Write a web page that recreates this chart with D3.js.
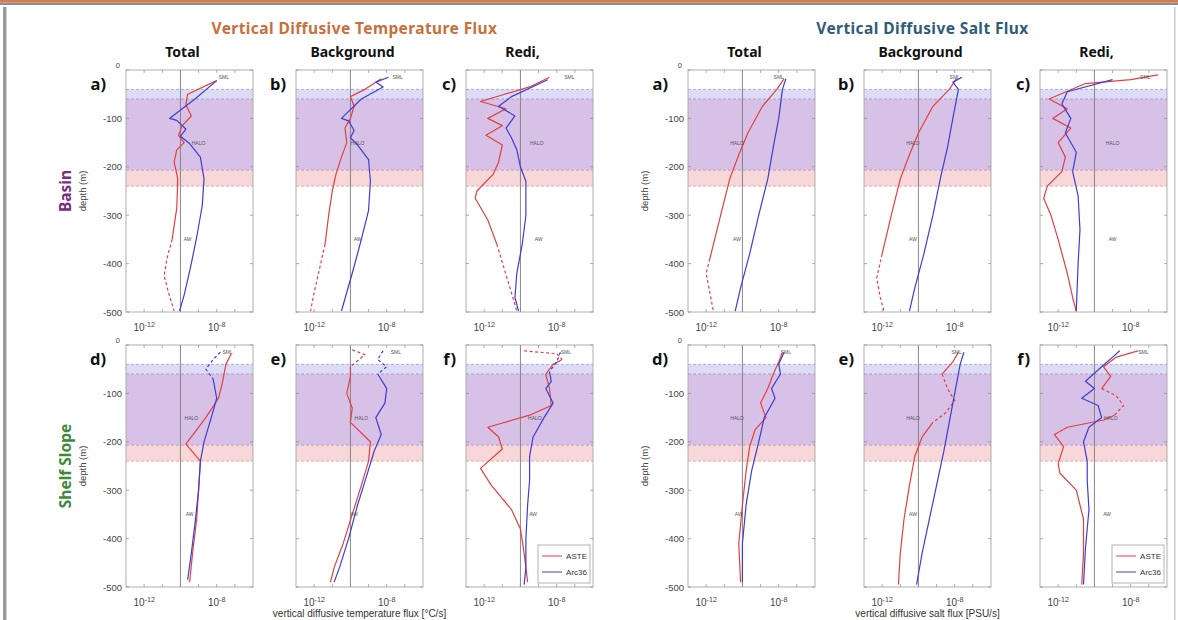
<!DOCTYPE html>
<html><head><meta charset="utf-8">
<script src="https://cdn.jsdelivr.net/npm/d3@7"></script>
<style>body{margin:0;background:#fff}svg{display:block}</style>
</head><body>
<svg id="chart" width="1178" height="620"></svg>
<script>
// ---------------- DATA ----------------
const groupTitles = ["Vertical Diffusive Temperature Flux", "Vertical Diffusive Salt Flux"];
const xLabels = ["vertical diffusive temperature flux [\u00B0C/s]", "vertical diffusive salt flux [PSU/s]"];
const columnHeaders = ["Total", "Background", "Redi,"];
const rowNames = ["Basin", "Shelf Slope"];
const panelLetters = [["a)", "b)", "c)"], ["d)", "e)", "f)"]];
const seriesNames = ["ASTE", "Arc36"];
const depthTicks = [0, -100, -200, -300, -400, -500];
const fluxTicks = [1e-12, 1e-8];
const fluxTickLabels = ["-12", "-8"];
const fluxDecades = [1e-12, 1e-11, 1e-10, 1e-9, 1e-8, 1e-7];
const fluxRefLine = 1e-10;
// layer bands [top, bottom] depth
const bandSML = [-40, -60];
const bandHALO = [-60, -207];
const bandAW = [-207, -240];
const layerLabels = ["SML", "HALO", "AW"];

// each series: [depth (m), flux]; negative flux = plotted as |flux| with dashed line
// Temperature, Basin
const tBasinTotalASTE = [[-22,1.0e-8],[-50,2.5e-10],[-72,2.0e-10],[-95,4.0e-10],[-115,1.26e-10],[-135,7.9e-11],[-150,1.6e-10],[-165,6.3e-11],[-190,4.5e-11],[-225,7.1e-11],[-285,6.3e-11],[-350,3.5e-11],[-390,-1.8e-11],[-425,-1.26e-11],[-460,-2.2e-11],[-498,-4.5e-11]];
const tBasinTotalArc = [[-22,1.0e-8],[-60,6.3e-10],[-100,2.5e-11],[-104,6.3e-11],[-122,2.0e-10],[-137,1.0e-10],[-152,3.2e-10],[-180,1.26e-9],[-225,2.0e-9],[-280,1.6e-9],[-345,7.9e-10],[-410,3.5e-10],[-465,1.6e-10],[-498,8.9e-11]];
const tBasinBackASTE = [[-18,5.0e-9],[-40,6.3e-10],[-55,1.0e-10],[-75,1.6e-10],[-100,1.0e-10],[-120,5.0e-11],[-150,6.3e-11],[-180,3.2e-11],[-215,1.6e-11],[-250,1.0e-11],[-300,6.3e-12],[-360,4.0e-12],[-410,-2.0e-12],[-460,-1.0e-12],[-498,-6.3e-13]];
const tBasinBackArc = [[-15,1.26e-8],[-25,2.5e-9],[-35,6.3e-9],[-60,4.0e-10],[-100,3.2e-11],[-105,7.9e-11],[-125,1.6e-10],[-140,1.0e-10],[-155,2.5e-10],[-185,1.0e-9],[-230,1.26e-9],[-290,1.0e-9],[-350,4.0e-10],[-420,1.26e-10],[-498,3.2e-11]];
const tBasinRediASTE = [[-15,4.0e-9],[-35,3.2e-10],[-65,6.3e-13],[-80,1.6e-11],[-100,1.6e-12],[-115,1.0e-11],[-135,1.26e-12],[-155,1.0e-11],[-190,6.3e-12],[-215,3.2e-12],[-250,4.0e-13],[-265,3.2e-13],[-310,1.6e-12],[-360,5.0e-12],[-410,-1.26e-11],[-460,-3.2e-11],[-498,-6.3e-11]];
const tBasinRediArc = [[-20,3.2e-9],[-55,3.2e-11],[-75,6.3e-12],[-95,5.0e-11],[-120,1.6e-11],[-140,3.2e-11],[-165,6.3e-11],[-200,1.0e-10],[-230,2.0e-10],[-300,2.0e-10],[-360,1.26e-10],[-420,6.3e-11],[-470,5.0e-11],[-498,7.9e-11]];
// Temperature, Shelf slope
const tShelfTotalASTE = [[-18,6.3e-8],[-40,3.2e-8],[-80,2.0e-8],[-110,1.26e-8],[-150,2.5e-9],[-205,2.0e-10],[-240,1.26e-9],[-300,1.0e-9],[-360,7.9e-10],[-420,5.0e-10],[-490,3.2e-10]];
const tShelfTotalArc = [[-15,-1.6e-8],[-30,-6.3e-9],[-50,-2.5e-9],[-70,-6.3e-9],[-110,1.0e-8],[-150,5.0e-9],[-200,2.0e-9],[-240,1.26e-9],[-300,1.0e-9],[-370,6.3e-10],[-430,4.0e-10],[-485,2.5e-10]];
const tShelfBackASTE = [[-10,-1.26e-10],[-20,-6.3e-10],[-45,-1.0e-10],[-65,1.0e-10],[-100,6.3e-11],[-130,1.26e-10],[-160,1.0e-10],[-200,1.26e-9],[-240,1.0e-9],[-290,4.0e-10],[-350,1.26e-10],[-410,4.0e-11],[-460,1.26e-11],[-490,7.9e-12]];
const tShelfBackArc = [[-12,-6.3e-9],[-30,-3.2e-9],[-45,-1.0e-8],[-60,-3.2e-9],[-90,1.0e-8],[-120,7.9e-9],[-150,2.5e-9],[-185,5.0e-9],[-220,2.0e-9],[-270,7.9e-10],[-330,2.5e-10],[-400,7.9e-11],[-460,2.5e-11],[-490,1.26e-11]];
const tShelfRediASTE = [[-12,-1.6e-10],[-18,-1.0e-8],[-30,-2.0e-8],[-40,6.3e-9],[-60,2.5e-9],[-90,4.0e-9],[-125,5.0e-9],[-145,3.2e-10],[-170,1.6e-12],[-190,6.3e-12],[-215,1.0e-11],[-255,6.3e-13],[-290,2.5e-12],[-340,3.2e-11],[-380,1.0e-10],[-430,1.6e-10],[-490,2.5e-10]];
const tShelfRediArc = [[-15,-1.6e-8],[-35,-1.0e-8],[-55,-4.0e-9],[-75,5.0e-9],[-90,2.5e-9],[-120,6.3e-9],[-150,2.0e-9],[-190,5.0e-10],[-230,3.2e-10],[-280,3.2e-10],[-330,2.5e-10],[-400,2.0e-10],[-460,2.0e-10],[-495,1.6e-10]];
// Salt, Basin
const sBasinTotalASTE = [[-18,2.0e-8],[-40,7.9e-9],[-75,1.26e-9],[-130,2.0e-10],[-175,6.3e-11],[-225,2.0e-11],[-300,6.3e-12],[-390,1.6e-12],[-420,-1.0e-12],[-460,-1.6e-12],[-498,-2.5e-12]];
const sBasinTotalArc = [[-18,2.5e-8],[-40,1.6e-8],[-100,1.0e-8],[-160,5.0e-9],[-225,2.5e-9],[-300,7.9e-10],[-380,2.5e-10],[-450,7.9e-11],[-498,4.0e-11]];
const sBasinBackASTE = [[-18,1.26e-8],[-40,5.0e-9],[-75,6.3e-10],[-130,1.0e-10],[-175,3.2e-11],[-225,1.0e-11],[-300,3.2e-12],[-380,1.0e-12],[-430,-5.0e-13],[-470,-7.9e-13],[-498,-1.26e-12]];
const sBasinBackArc = [[-15,2.5e-8],[-25,7.9e-9],[-40,1.6e-8],[-100,7.9e-9],[-160,4.0e-9],[-225,1.6e-9],[-300,6.3e-10],[-380,2.0e-10],[-450,6.3e-11],[-498,3.2e-11]];
const sBasinRediASTE = [[-10,3.2e-7],[-20,1.0e-8],[-28,3.2e-11],[-60,3.2e-13],[-80,3.2e-12],[-100,5.0e-13],[-120,5.0e-12],[-150,1.0e-12],[-180,2.5e-12],[-210,1.6e-12],[-240,2.5e-13],[-265,1.6e-13],[-300,4.0e-13],[-350,1.0e-12],[-420,3.2e-12],[-470,6.3e-12],[-498,1.0e-11]];
const sBasinRediArc = [[-20,1.0e-9],[-45,3.2e-12],[-70,1.6e-12],[-100,5.0e-12],[-130,2.5e-12],[-170,1.0e-11],[-210,6.3e-12],[-260,1.26e-11],[-330,1.6e-11],[-400,1.26e-11],[-498,1.0e-11]];
// Salt, Shelf slope
const sShelfTotalASTE = [[-15,1.6e-8],[-35,1.0e-8],[-60,5.0e-9],[-90,2.5e-9],[-120,1.0e-9],[-150,2.0e-9],[-175,5.0e-10],[-210,2.5e-10],[-260,1.6e-10],[-330,1.0e-10],[-410,6.3e-11],[-490,7.9e-11]];
const sShelfTotalArc = [[-15,2.0e-8],[-40,1.0e-8],[-60,1.26e-8],[-90,4.0e-9],[-110,6.3e-9],[-150,1.6e-9],[-200,7.9e-10],[-260,3.2e-10],[-330,1.6e-10],[-410,1.0e-10],[-490,1.0e-10]];
const sShelfBackASTE = [[-15,1.6e-8],[-35,7.9e-9],[-60,2.0e-9],[-90,-4.0e-9],[-115,-1.0e-8],[-140,-3.2e-9],[-160,-6.3e-10],[-190,1.6e-10],[-230,6.3e-11],[-290,3.2e-11],[-360,1.6e-11],[-430,1.0e-11],[-495,7.9e-12]];
const sShelfBackArc = [[-15,3.2e-8],[-40,2.0e-8],[-80,1.26e-8],[-120,7.9e-9],[-160,5.0e-9],[-220,2.5e-9],[-290,1.0e-9],[-360,4.0e-10],[-430,1.6e-10],[-495,7.9e-11]];
const sShelfRediASTE = [[-12,2.5e-8],[-25,1.6e-9],[-45,3.2e-10],[-65,7.9e-10],[-90,2.5e-10],[-105,-1.6e-9],[-125,-4.0e-9],[-145,-1.26e-9],[-155,3.2e-10],[-170,3.2e-12],[-185,6.3e-13],[-210,2.0e-12],[-245,1.0e-12],[-265,1.26e-12],[-300,1.0e-11],[-360,2.5e-11],[-430,2.5e-11],[-495,2.0e-11]];
const sShelfRediArc = [[-12,2.5e-9],[-25,1.0e-9],[-45,2.5e-10],[-75,3.2e-11],[-90,1.0e-10],[-110,2.0e-11],[-125,1.6e-10],[-150,2.5e-10],[-170,5.0e-11],[-200,2.5e-11],[-240,4.0e-11],[-280,4.0e-11],[-340,5.0e-11],[-420,3.2e-11],[-495,2.5e-11]];

// layer-label positions [flux, depth] for SML, HALO, AW per panel
const tLabelPos = [
  [[[2.5e-8,-15],[1.0e-9,-150],[2.5e-10,-350]], [[4.0e-8,-15],[2.5e-10,-150],[2.5e-10,-350]], [[5.0e-8,-15],[8.0e-10,-150],[1.0e-9,-350]]],
  [[[4.0e-8,-15],[4.0e-10,-150],[3.2e-10,-350]], [[3.2e-8,-15],[4.0e-10,-150],[1.6e-10,-350]], [[3.2e-8,-15],[6.3e-10,-150],[5.0e-10,-350]]]
];
const sLabelPos = [
  [[[1.0e-8,-15],[5.0e-11,-150],[5.0e-11,-350]], [[1.0e-8,-15],[5.0e-11,-150],[5.0e-11,-350]], [[6.3e-8,-15],[1.0e-9,-150],[1.0e-9,-350]]],
  [[[2.5e-8,-15],[5.0e-11,-150],[6.3e-11,-350]], [[1.26e-8,-15],[5.0e-11,-150],[5.0e-11,-350]], [[5.0e-8,-15],[8.0e-10,-150],[5.0e-10,-350]]]
];

const tSeries = [
  [[tBasinTotalASTE, tBasinTotalArc], [tBasinBackASTE, tBasinBackArc], [tBasinRediASTE, tBasinRediArc]],
  [[tShelfTotalASTE, tShelfTotalArc], [tShelfBackASTE, tShelfBackArc], [tShelfRediASTE, tShelfRediArc]]
];
const sSeries = [
  [[sBasinTotalASTE, sBasinTotalArc], [sBasinBackASTE, sBasinBackArc], [sBasinRediASTE, sBasinRediArc]],
  [[sShelfTotalASTE, sShelfTotalArc], [sShelfBackASTE, sShelfBackArc], [sShelfRediASTE, sShelfRediArc]]
];

// ---------------- LAYOUT / STYLE ----------------
const PW = 127, PH = 242;
const groupX = [[126, 296, 466], [688, 864, 1040]];
const rowY = [70, 345];
const seriesColors = ["#e2403f", "#3d3dd6"];
const titleColors = ["#c8703a", "#2f5d78"];
const rowColors = ["#7a2c7e", "#3f8a3a"];
const FONT = "'Liberation Sans', Arial, sans-serif";
const TFONT = "'Noto Sans', 'Open Sans', sans-serif";

const svg = d3.select("#chart");
svg.append("rect").attr("width", 1178).attr("height", 620).attr("fill", "#fff");
// frame
svg.append("rect").attr("x", 0).attr("y", 0).attr("width", 1178).attr("height", 2.5).attr("fill", "#d97b45");
svg.append("rect").attr("x", 0).attr("y", 2.5).attr("width", 1178).attr("height", 2.5).attr("fill", "#8e8e8e");
svg.append("rect").attr("x", 3).attr("y", 7).attr("width", 3.5).attr("height", 613).attr("fill", "#9a9a9a");
svg.append("rect").attr("x", 1174).attr("y", 7).attr("width", 1.5).attr("height", 613).attr("fill", "#c8c8c8");

const x = d3.scaleLog().domain([1e-13, 1e-6]).range([0, PW]);
const y = d3.scaleLinear().domain([0, -500]).range([0, PH]);

function splitRuns(data) {
  const runs = [];
  let cur = null;
  data.forEach(p => {
    const neg = p[1] < 0;
    if (!cur || cur.neg !== neg) {
      const start = cur ? [cur.pts[cur.pts.length - 1]] : [];
      cur = { neg, pts: start.concat([p]) };
      runs.push(cur);
    } else cur.pts.push(p);
  });
  return runs;
}
const line = d3.line().x(p => x(Math.abs(p[1]))).y(p => y(p[0]));

[0, 1].forEach(gi => {
  const series = gi === 0 ? tSeries : sSeries;
  const labelPos = gi === 0 ? tLabelPos : sLabelPos;
  const gx = groupX[gi];
  const centre = (gx[0] + gx[2] + PW) / 2;
  svg.append("text").attr("x", centre - 5).attr("y", 34).attr("text-anchor", "middle")
    .attr("font-family", TFONT).attr("font-weight", "bold").attr("font-size", 15.5)
    .attr("letter-spacing", 0.4)
    .attr("fill", titleColors[gi]).text(groupTitles[gi]);
  columnHeaders.forEach((h, ci) => {
    svg.append("text").attr("x", gx[ci] + PW / 2 - 7).attr("y", 57).attr("text-anchor", "middle")
      .attr("font-family", TFONT).attr("font-weight", "bold").attr("font-size", 14)
      .attr("fill", "#111").text(h);
  });
  svg.append("text").attr("x", centre).attr("y", 617).attr("text-anchor", "middle")
    .attr("font-family", FONT).attr("font-size", 10).attr("fill", "#333").text(xLabels[gi]);

  [0, 1].forEach(ri => {
    const y0 = rowY[ri];
    const yl = gi === 0 ? 86 : gx[0] - 40;
    svg.append("text").attr("transform", `translate(${yl},${y0 + PH / 2}) rotate(-90)`)
      .attr("text-anchor", "middle").attr("font-family", FONT).attr("font-size", 9.5)
      .attr("fill", "#444").text("depth (m)");
    if (gi === 0) {
      svg.append("text").attr("transform", `translate(71,${y0 + PH / 2}) rotate(-90)`)
        .attr("text-anchor", "middle").attr("font-family", TFONT).attr("font-weight", "bold")
        .attr("font-size", 15.5).attr("fill", rowColors[ri]).text(rowNames[ri]);
    }
    [0, 1, 2].forEach(ci => {
      const g = svg.append("g").attr("transform", `translate(${gx[ci]},${y0})`);
      [[bandSML, "#dcdcf6"], [bandHALO, "#d8c1e7"], [bandAW, "#f8d7d9"]].forEach(([b, c]) => {
        g.append("rect").attr("x", 0).attr("width", PW).attr("y", y(b[0]))
          .attr("height", y(b[1]) - y(b[0])).attr("fill", c);
      });
      [[bandSML[0], "#8f8fd6"], [bandSML[1], "#9a86b8"], [bandAW[0], "#a689b0"], [bandAW[1], "#d99a9a"]].forEach(([d, c]) => {
        g.append("line").attr("x1", 0).attr("x2", PW).attr("y1", y(d)).attr("y2", y(d))
          .attr("stroke", c).attr("stroke-width", 0.7).attr("stroke-dasharray", "3,2");
      });
      g.append("line").attr("x1", x(fluxRefLine)).attr("x2", x(fluxRefLine)).attr("y1", 0).attr("y2", PH)
        .attr("stroke", "#7c7c7c").attr("stroke-width", 0.9);
      g.append("rect").attr("width", PW).attr("height", PH).attr("fill", "none")
        .attr("stroke", "#a6a6a6").attr("stroke-width", 0.9);
      fluxDecades.forEach(v => {
        [[0, 3], [PH, PH - 3]].forEach(([a, b]) => g.append("line").attr("x1", x(v)).attr("x2", x(v))
          .attr("y1", a).attr("y2", b).attr("stroke", "#8a8a8a").attr("stroke-width", 0.7));
      });
      depthTicks.forEach(d => {
        [[0, 3], [PW, PW - 3]].forEach(([a, b]) => g.append("line").attr("x1", a).attr("x2", b)
          .attr("y1", y(d)).attr("y2", y(d)).attr("stroke", "#8a8a8a").attr("stroke-width", 0.7));
      });
      fluxTicks.forEach((v, k) => {
        const t = g.append("text").attr("x", x(v)).attr("y", PH + 19).attr("text-anchor", "middle")
          .attr("font-family", FONT).attr("font-size", 10).attr("fill", "#444");
        t.append("tspan").text("10");
        t.append("tspan").attr("dy", -4.5).attr("font-size", 7.2).text(fluxTickLabels[k]);
      });
      if (ci === 0) {
        depthTicks.forEach(d => {
          g.append("text").attr("x", d === 0 ? -6 : -4).attr("y", y(d) + (d === 0 ? -2 : 3.5)).attr("text-anchor", "end")
            .attr("font-family", FONT).attr("font-size", d === 0 ? 7.5 : 9.5).attr("fill", "#444").text(d);
        });
      }
      g.append("text").attr("x", ci === 0 ? -20 : -10).attr("y", 20).attr("text-anchor", "end")
        .attr("font-family", TFONT).attr("font-weight", "bold").attr("font-size", 16.5)
        .attr("fill", "#111").text(panelLetters[ri][ci]);
      series[ri][ci].forEach((data, si) => {
        splitRuns(data).forEach(run => {
          g.append("path").attr("d", line(run.pts)).attr("fill", "none")
            .attr("stroke", seriesColors[si]).attr("stroke-width", 1.2)
            .attr("stroke-dasharray", run.neg ? "3,2.5" : null)
            .attr("stroke-linejoin", "round");
        });
      });
      labelPos[ri][ci].forEach((p, k) => {
        g.append("text").attr("x", x(p[0])).attr("y", y(p[1]) + 2).attr("text-anchor", "middle")
          .attr("font-family", FONT).attr("font-size", 5).attr("fill", "#555").text(layerLabels[k]);
      });
      if (ri === 1 && ci === 2) {
        const lw = 52, lh = 38, lx = PW - lw - 3, ly = PH - lh - 4;
        g.append("rect").attr("x", lx).attr("y", ly).attr("width", lw).attr("height", lh)
          .attr("fill", "#fff").attr("stroke", "#a0a0a0").attr("stroke-width", 0.8);
        seriesNames.forEach((n, si) => {
          const yy = ly + 11 + si * 16;
          g.append("line").attr("x1", lx + 4).attr("x2", lx + 24).attr("y1", yy).attr("y2", yy)
            .attr("stroke", seriesColors[si]).attr("stroke-width", 1);
          g.append("text").attr("x", lx + lw - 3).attr("y", yy + 3).attr("text-anchor", "end")
            .attr("font-family", FONT).attr("font-size", 8).attr("fill", "#333").text(n);
        });
      }
    });
  });
});
</script>
</body></html>
